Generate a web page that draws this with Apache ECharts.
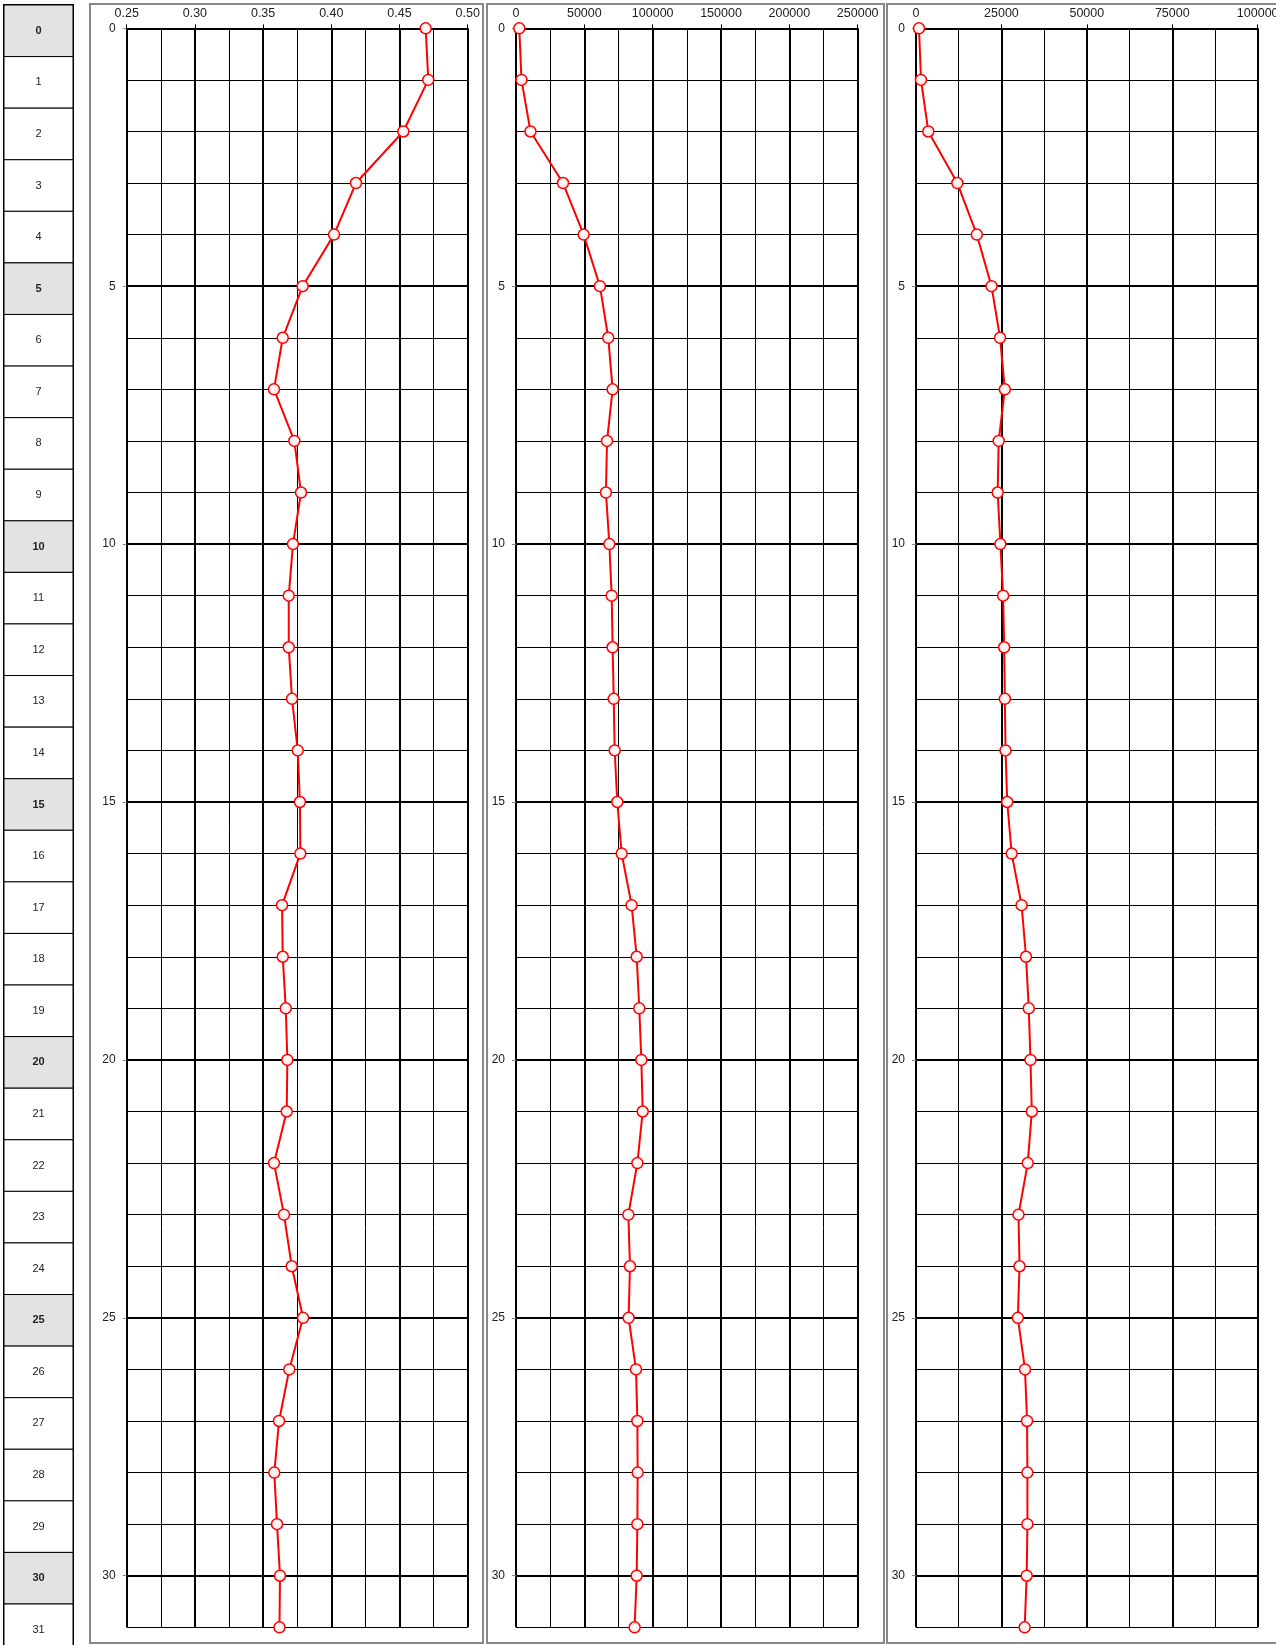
<!DOCTYPE html>
<html>
<head>
<meta charset="utf-8">
<script src="https://cdn.jsdelivr.net/npm/echarts@6/dist/echarts.min.js"></script>
<style>
html, body { margin: 0; padding: 0; background: #fff; }
#content { width: 1276px; height: 1645px; }
</style>
</head>
<body>
<div id="content"></div>
<script>
// depth rows (left table + y of every point)
var depths = [0, 1, 2, 3, 4, 5, 6, 7, 8, 9, 10, 11, 12, 13, 14, 15,
              16, 17, 18, 19, 20, 21, 22, 23, 24, 25, 26, 27, 28, 29, 30, 31];
var depthLabels = [0, 5, 10, 15, 20, 25, 30];

var track1Values = [0.4692, 0.4711, 0.4528, 0.4181, 0.4020, 0.3790, 0.3644, 0.3580,
                    0.3729, 0.3778, 0.3719, 0.3688, 0.3688, 0.3712, 0.3754, 0.3770,
                    0.3773, 0.3639, 0.3644, 0.3666, 0.3678, 0.3673, 0.3580, 0.3653,
                    0.3710, 0.3793, 0.3692, 0.3617, 0.3582, 0.3602, 0.3624, 0.3620];
var track2Values = [2400, 4000, 10600, 34400, 49500, 61400, 67500, 70700,
                    66600, 65800, 68300, 70000, 70700, 71500, 72200, 74100,
                    77300, 84600, 88300, 90200, 91700, 92700, 88800, 82200,
                    83400, 82400, 87800, 88800, 89000, 88800, 88300, 86800];
var track3Values = [880, 1460, 3600, 12100, 17800, 22100, 24600, 26000,
                    24200, 23900, 24700, 25500, 25800, 26000, 26200, 26700,
                    28000, 30900, 32200, 33000, 33500, 33900, 32700, 30000,
                    30300, 29800, 31900, 32500, 32600, 32600, 32400, 31800];

var FONT = '"Liberation Sans", Arial, Helvetica, sans-serif';

function pairs(values) {
    return values.map(function (v, i) { return [v, depths[i]]; });
}

function trackXAxis(grid, min, max, interval, fmt) {
    return {
        type: 'value', gridIndex: grid, position: 'top',
        min: min, max: max, interval: interval,
        axisLine: {show: false},
        axisTick: {show: true, length: 4, lineStyle: {color: '#000', width: 1}},
        axisLabel: {margin: 8, fontSize: 12.5, color: '#222', fontFamily: FONT, formatter: fmt},
        splitLine: {show: true, lineStyle: {color: '#000', width: 2}},
        minorTick: {show: false, splitNumber: 2},
        minorSplitLine: {show: true, lineStyle: {color: '#000', width: 1}}
    };
}

function trackYAxes(grid) {
    return [
        {
            type: 'value', gridIndex: grid, position: 'left', inverse: true,
            min: 0, max: 31, interval: 5,
            axisLine: {show: false},
            axisTick: {show: true, length: 4, lineStyle: {color: '#888'}, customValues: depthLabels},
            axisLabel: {margin: 11, fontSize: 12, color: '#222', fontFamily: FONT, customValues: depthLabels},
            splitLine: {show: true, lineStyle: {color: '#000', width: 2}}
        },
        {
            type: 'value', gridIndex: grid, position: 'right', inverse: true,
            min: 0, max: 31, interval: 1,
            axisLine: {show: false}, axisTick: {show: false}, axisLabel: {show: false},
            splitLine: {show: true, lineStyle: {color: '#000', width: 1}}
        }
    ];
}

function trackSeries(values, axisIndex) {
    return {
        type: 'line',
        xAxisIndex: axisIndex,
        yAxisIndex: axisIndex * 2,
        data: pairs(values),
        clip: false,
        symbol: 'circle',
        symbolSize: 11,
        lineStyle: {color: '#ff0000', width: 2},
        itemStyle: {
            color: {
                type: 'radial', x: 0.45, y: 0.4, r: 0.6,
                colorStops: [{offset: 0, color: '#ffffff'}, {offset: 1, color: '#ffe0e0'}]
            },
            borderColor: '#ff0000',
            borderWidth: 1.5
        },
        z: 5
    };
}

var myChart = echarts.init(document.getElementById('content'));

var yAxes = [].concat(trackYAxes(0), trackYAxes(1), trackYAxes(2));
// table rows are 51.58px high, 1640px visible from the top at 5px
yAxes.push({type: 'value', gridIndex: 3, min: -0.5, max: 31.295, inverse: true, show: false});

myChart.setOption({
    animation: false,
    textStyle: {fontFamily: FONT},
    graphic: [
        {type: 'rect', silent: true, z: -1, shape: {x: 90, y: 4, width: 393, height: 1639},
         style: {fill: 'none', stroke: '#888', lineWidth: 2}},
        {type: 'rect', silent: true, z: -1, shape: {x: 487, y: 4, width: 397, height: 1639},
         style: {fill: 'none', stroke: '#888', lineWidth: 2}},
        {type: 'rect', silent: true, z: -1, shape: {x: 887, y: 4, width: 397, height: 1639},
         style: {fill: 'none', stroke: '#888', lineWidth: 2}}
    ],
    grid: [
        {left: 126.7, top: 28.3, width: 341, height: 1599, outerBoundsMode: 'none'},
        {left: 516, top: 28.3, width: 341.7, height: 1599, outerBoundsMode: 'none'},
        {left: 916, top: 28.3, width: 341.7, height: 1599, outerBoundsMode: 'none'},
        {left: 4, top: 5, width: 69, height: 1640, outerBoundsMode: 'none',
         show: true, borderColor: '#000', borderWidth: 2}
    ],
    xAxis: [
        trackXAxis(0, 0.25, 0.50, 0.05, function (v) { return v.toFixed(2); }),
        trackXAxis(1, 0, 250000, 50000, function (v) { return String(v); }),
        trackXAxis(2, 0, 100000, 25000, function (v) { return String(v); }),
        {type: 'value', gridIndex: 3, min: 0, max: 1, show: false}
    ],
    yAxis: yAxes,
    series: [
        trackSeries(track1Values, 0),
        trackSeries(track2Values, 1),
        trackSeries(track3Values, 2),
        {
            type: 'custom',
            xAxisIndex: 3,
            yAxisIndex: 6,
            clip: false,
            data: depths.map(function (d) { return [0.5, d]; }),
            renderItem: function (params, api) {
                var d = api.value(1);
                var p0 = api.coord([0, d - 0.5]);
                var p1 = api.coord([1, d + 0.5]);
                var major = d % 5 === 0;
                return {
                    type: 'group',
                    children: [
                        {type: 'rect',
                         shape: {x: p0[0], y: p0[1], width: p1[0] - p0[0], height: p1[1] - p0[1]},
                         style: {fill: major ? '#e3e3e3' : '#fff', stroke: '#000', lineWidth: 1}},
                        {type: 'text',
                         style: {text: String(d), x: (p0[0] + p1[0]) / 2, y: (p0[1] + p1[1]) / 2,
                                 align: 'center', verticalAlign: 'middle', fill: '#222',
                                 font: (major ? 'bold ' : '') + '11px ' + FONT}}
                    ]
                };
            }
        }
    ]
});
</script>
</body>
</html>
